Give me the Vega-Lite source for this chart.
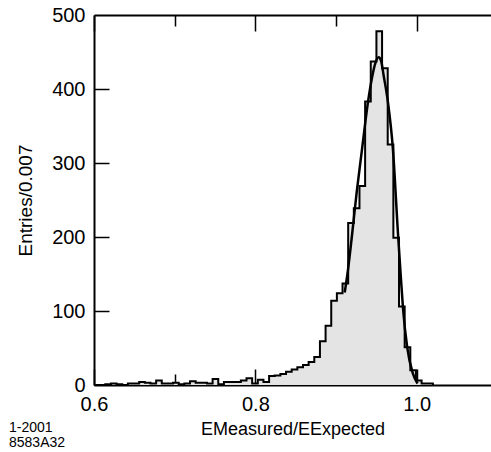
{
  "$schema": "https://vega.github.io/schema/vega-lite/v6.json",
  "width": 397,
  "height": 370,
  "autosize": {"type": "none"},
  "padding": {"left": 94, "top": 15, "right": 0, "bottom": 67},
  "background": "white",
  "config": {
    "view": {"stroke": null},
    "font": "Liberation Sans",
    "axis": {
      "domainColor": "black",
      "domainWidth": 2,
      "gridColor": "black",
      "gridWidth": 1.5,
      "gridOpacity": 1,
      "labelFont": "Liberation Sans",
      "labelFontSize": 20,
      "labelColor": "black",
      "titleFont": "Liberation Sans",
      "titleFontWeight": "normal",
      "titleColor": "black",
      "zindex": 1
    }
  },
  "title": {
    "text": ["1-2001", "8583A32"],
    "orient": "bottom",
    "anchor": "start",
    "frame": "group",
    "dx": -85,
    "offset": -17,
    "fontSize": 14,
    "fontWeight": "normal",
    "lineHeight": 15,
    "font": "Liberation Sans",
    "color": "black"
  },
  "datasets": {
    "hist": [
      {"x": 0.600, "n": 0}, {"x": 0.607, "n": 0}, {"x": 0.614, "n": 1}, {"x": 0.621, "n": 2},
      {"x": 0.628, "n": 1}, {"x": 0.635, "n": 0}, {"x": 0.642, "n": 2}, {"x": 0.649, "n": 2},
      {"x": 0.656, "n": 4}, {"x": 0.663, "n": 3}, {"x": 0.670, "n": 2}, {"x": 0.677, "n": 6},
      {"x": 0.684, "n": 2}, {"x": 0.691, "n": 2}, {"x": 0.698, "n": 3}, {"x": 0.705, "n": 1},
      {"x": 0.712, "n": 2}, {"x": 0.719, "n": 5}, {"x": 0.726, "n": 3}, {"x": 0.733, "n": 3},
      {"x": 0.740, "n": 2}, {"x": 0.747, "n": 8}, {"x": 0.754, "n": 1}, {"x": 0.761, "n": 4},
      {"x": 0.768, "n": 4}, {"x": 0.775, "n": 4}, {"x": 0.782, "n": 6}, {"x": 0.789, "n": 9},
      {"x": 0.796, "n": 2}, {"x": 0.803, "n": 7}, {"x": 0.810, "n": 4}, {"x": 0.817, "n": 12},
      {"x": 0.824, "n": 13}, {"x": 0.831, "n": 15}, {"x": 0.838, "n": 18}, {"x": 0.845, "n": 21},
      {"x": 0.852, "n": 24}, {"x": 0.859, "n": 27}, {"x": 0.866, "n": 31}, {"x": 0.873, "n": 38},
      {"x": 0.880, "n": 59}, {"x": 0.887, "n": 80}, {"x": 0.894, "n": 114}, {"x": 0.901, "n": 124},
      {"x": 0.908, "n": 137}, {"x": 0.915, "n": 219}, {"x": 0.922, "n": 239}, {"x": 0.929, "n": 269},
      {"x": 0.936, "n": 383}, {"x": 0.943, "n": 437}, {"x": 0.950, "n": 478}, {"x": 0.957, "n": 428},
      {"x": 0.964, "n": 325}, {"x": 0.971, "n": 199}, {"x": 0.978, "n": 106}, {"x": 0.985, "n": 51},
      {"x": 0.992, "n": 20}, {"x": 0.999, "n": 6}, {"x": 1.006, "n": 2}, {"x": 1.013, "n": 2},
      {"x": 1.020, "n": 0}
    ],
    "fit": [
      {"x": 0.9107, "n": 125}, {"x": 0.9148, "n": 156}, {"x": 0.9195, "n": 200},
      {"x": 0.9255, "n": 260}, {"x": 0.9321, "n": 318}, {"x": 0.9395, "n": 382},
      {"x": 0.9450, "n": 418}, {"x": 0.9487, "n": 435}, {"x": 0.9528, "n": 443},
      {"x": 0.9560, "n": 437}, {"x": 0.9590, "n": 418}, {"x": 0.9643, "n": 382},
      {"x": 0.9705, "n": 318}, {"x": 0.9767, "n": 205}, {"x": 0.9800, "n": 150},
      {"x": 0.9830, "n": 103}, {"x": 0.9880, "n": 52}, {"x": 0.9950, "n": 16},
      {"x": 1.0010, "n": 2}
    ]
  },
  "layer": [
    {
      "data": {"name": "hist"},
      "mark": {"type": "area", "interpolate": "step-after", "color": "#e4e4e4"},
      "encoding": {
        "x": {
          "field": "x", "type": "quantitative",
          "scale": {"domain": [0.6, 1.092], "nice": false, "zero": false},
          "axis": {
            "orient": "bottom",
            "values": [0.6, 0.8, 1.0],
            "format": ".1f",
            "ticks": false,
            "grid": true,
            "gridDash": [16, 338, 16, 1000],
            "labelPadding": 9,
            "labelFlush": false,
            "labelOverlap": false,
            "title": "EMeasured/EExpected",
            "titleFontSize": 18,
            "titlePadding": 6
          }
        },
        "y": {
          "field": "n", "type": "quantitative",
          "scale": {"domain": [0, 500], "nice": false},
          "axis": {
            "orient": "left",
            "values": [0, 100, 200, 300, 400, 500],
            "ticks": false,
            "grid": false,
            "labelPadding": 9,
            "title": "Entries/0.007",
            "titleFontSize": 19,
            "titlePadding": 16
          }
        }
      }
    },
    {
      "data": {"name": "hist"},
      "mark": {"type": "line", "interpolate": "step-after", "color": "black", "strokeWidth": 2},
      "encoding": {
        "x": {
          "field": "x", "type": "quantitative",
          "axis": {
            "orient": "bottom",
            "values": [0.7, 0.9],
            "labels": false,
            "domain": false,
            "ticks": false,
            "title": null,
            "grid": true,
            "gridDash": [11, 348, 11, 1000]
          }
        },
        "y": {
          "field": "n", "type": "quantitative",
          "axis": {
            "orient": "left",
            "values": [100, 200, 300, 400],
            "labels": false,
            "domain": false,
            "ticks": false,
            "title": null,
            "grid": true,
            "gridDash": [15, 1000]
          }
        }
      }
    },
    {
      "data": {"name": "fit"},
      "mark": {"type": "line", "interpolate": "monotone", "color": "black", "strokeWidth": 2.5},
      "encoding": {
        "x": {
          "field": "x", "type": "quantitative",
          "axis": {
            "orient": "top",
            "values": [0.6],
            "labels": false,
            "ticks": false,
            "grid": false,
            "title": null
          }
        },
        "y": {"field": "n", "type": "quantitative", "axis": null}
      }
    }
  ],
  "resolve": {"axis": {"x": "independent", "y": "independent"}}
}
